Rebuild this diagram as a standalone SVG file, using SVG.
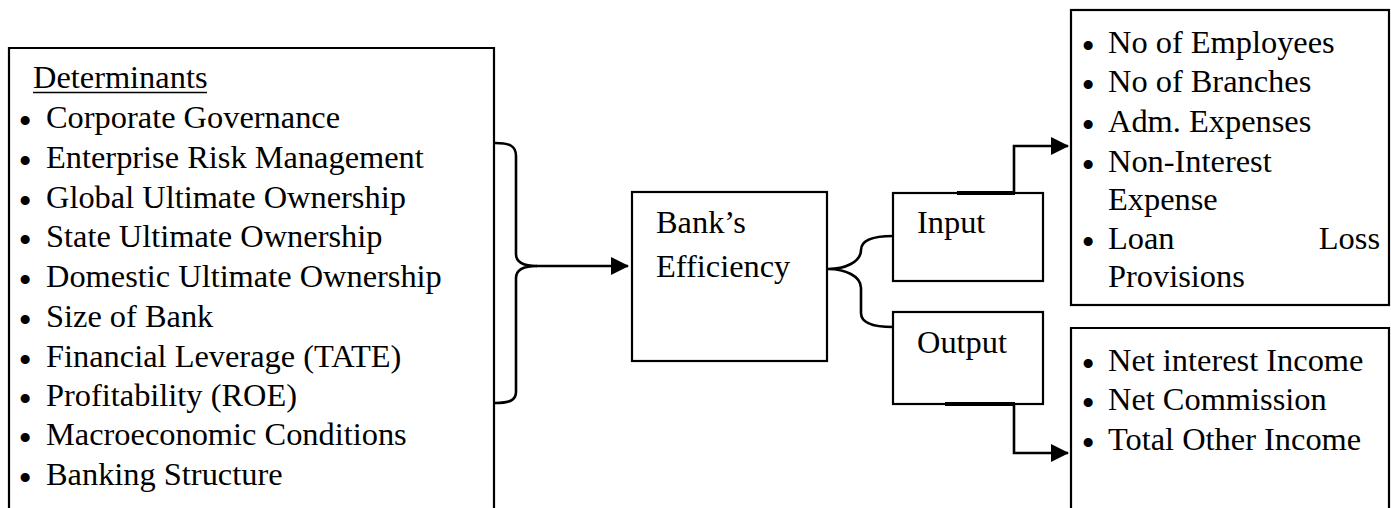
<svg xmlns="http://www.w3.org/2000/svg" width="1391" height="508" viewBox="0 0 1391 508">
  <style>
    .box { fill: #fff; stroke: #000; stroke-width: 2.2; }
    .txt { font-family: "Liberation Serif", "Times New Roman", serif; font-size: 32.4px; fill: #000; }
    .b { font-size: 38px; }
    .wire { fill: none; stroke: #000; stroke-width: 2.6; }
    .thick { fill: none; stroke: #000; stroke-width: 4; }
  </style>
  <defs>
    <marker id="arrow" viewBox="0 0 18 18" refX="17" refY="9" markerWidth="18" markerHeight="18" orient="auto" markerUnits="userSpaceOnUse">
      <path d="M0,0 L18,9 L0,18 Z" fill="#000"/>
    </marker>
  </defs>
  <rect width="1391" height="508" fill="#fff"/>

  <!-- Determinants list -->
  <g id="determinants">
    <path class="box" d="M9,512 L9,48 L494,48 L494,512"/>
    <text class="txt" x="33" y="88">Determinants</text>
    <line x1="33" y1="92.5" x2="207" y2="92.5" stroke="#000" stroke-width="1.6"/>
    <g class="txt">
      <text y="128"><tspan class="b" x="18.5" dy="5.5">•</tspan><tspan x="46" dy="-5.5">Corporate Governance</tspan></text>
      <text y="168"><tspan class="b" x="18.5" dy="5.5">•</tspan><tspan x="46" dy="-5.5">Enterprise Risk Management</tspan></text>
      <text y="208"><tspan class="b" x="18.5" dy="5.5">•</tspan><tspan x="46" dy="-5.5">Global Ultimate Ownership</tspan></text>
      <text y="247"><tspan class="b" x="18.5" dy="5.5">•</tspan><tspan x="46" dy="-5.5">State Ultimate Ownership</tspan></text>
      <text y="287"><tspan class="b" x="18.5" dy="5.5">•</tspan><tspan x="46" dy="-5.5">Domestic Ultimate Ownership</tspan></text>
      <text y="327"><tspan class="b" x="18.5" dy="5.5">•</tspan><tspan x="46" dy="-5.5">Size of Bank</tspan></text>
      <text y="367"><tspan class="b" x="18.5" dy="5.5">•</tspan><tspan x="46" dy="-5.5">Financial Leverage (TATE)</tspan></text>
      <text y="406"><tspan class="b" x="18.5" dy="5.5">•</tspan><tspan x="46" dy="-5.5">Profitability (ROE)</tspan></text>
      <text y="445"><tspan class="b" x="18.5" dy="5.5">•</tspan><tspan x="46" dy="-5.5">Macroeconomic Conditions</tspan></text>
      <text y="485"><tspan class="b" x="18.5" dy="5.5">•</tspan><tspan x="46" dy="-5.5">Banking Structure</tspan></text>
    </g>
  </g>

  <!-- Bank's Efficiency -->
  <g id="efficiency">
    <rect class="box" x="632" y="192" width="195" height="169"/>
    <text class="txt" x="656" y="233">Bank’s</text>
    <text class="txt" x="656" y="277">Efficiency</text>
  </g>

  <!-- Input -->
  <g id="input">
    <rect class="box" x="893" y="193" width="150" height="88"/>
    <text class="txt" x="917" y="233">Input</text>
  </g>

  <!-- Output -->
  <g id="output">
    <rect class="box" x="893" y="312" width="150" height="92"/>
    <text class="txt" x="917" y="353">Output</text>
  </g>

  <!-- Input variables -->
  <g id="input-list">
    <rect class="box" x="1071" y="10" width="318" height="295"/>
    <g class="txt">
      <text y="53"><tspan class="b" x="1081.5" dy="5.5">•</tspan><tspan x="1108" dy="-5.5">No of Employees</tspan></text>
      <text y="92"><tspan class="b" x="1081.5" dy="5.5">•</tspan><tspan x="1108" dy="-5.5">No of Branches</tspan></text>
      <text y="132"><tspan class="b" x="1081.5" dy="5.5">•</tspan><tspan x="1108" dy="-5.5">Adm. Expenses</tspan></text>
      <text y="172"><tspan class="b" x="1081.5" dy="5.5">•</tspan><tspan x="1108" dy="-5.5">Non-Interest</tspan></text>
      <text x="1108" y="210">Expense</text>
      <text y="249"><tspan class="b" x="1081.5" dy="5.5">•</tspan><tspan x="1108" dy="-5.5">Loan</tspan></text>
      <text x="1380" y="249" text-anchor="end">Loss</text>
      <text x="1108" y="287">Provisions</text>
    </g>
  </g>

  <!-- Output variables -->
  <g id="output-list">
    <path class="box" d="M1071,512 L1071,328 L1389,328 L1389,512"/>
    <g class="txt">
      <text y="371"><tspan class="b" x="1081.5" dy="5.5">•</tspan><tspan x="1108" dy="-5.5">Net interest Income</tspan></text>
      <text y="410"><tspan class="b" x="1081.5" dy="5.5">•</tspan><tspan x="1108" dy="-5.5">Net Commission</tspan></text>
      <text y="450"><tspan class="b" x="1081.5" dy="5.5">•</tspan><tspan x="1108" dy="-5.5">Total Other Income</tspan></text>
    </g>
  </g>

  <!-- Connectors -->
  <g id="connectors">
    <!-- brace gathering the determinants -->
    <path class="wire" d="M495,143 C510,143 516,146 516,156 L516,254 C516,262 524,266 537,266 C524,266 516,270 516,278 L516,392 C516,400 510,403 495,403"/>
    <line class="wire" x1="536" y1="266" x2="628" y2="266" marker-end="url(#arrow)"/>
    <!-- brace splitting into input and output -->
    <path class="wire" d="M893,236 C872,236 861,240 861,250 C861,262 845,269 828,269 C845,269 861,276 861,288 L861,313 C861,323 872,327 893,327"/>
    <!-- input to its variables -->
    <line class="thick" x1="957" y1="193" x2="1015" y2="193"/>
    <path class="wire" d="M1014,193 L1014,146 L1068,146" marker-end="url(#arrow)"/>
    <!-- output to its variables -->
    <line class="thick" x1="945" y1="404" x2="1015" y2="404"/>
    <path class="wire" d="M1014,404 L1014,453 L1068,453" marker-end="url(#arrow)"/>
  </g>
</svg>
